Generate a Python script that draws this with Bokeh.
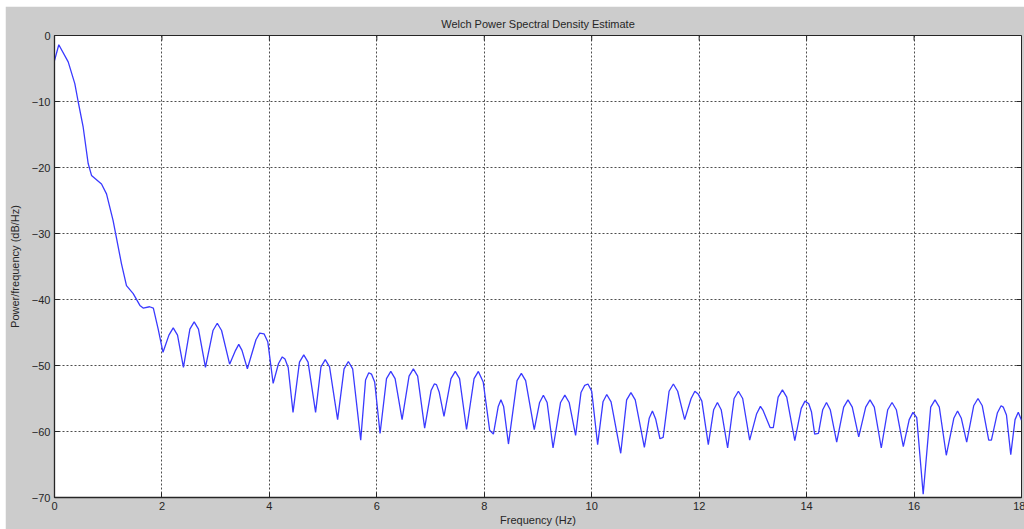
from bokeh.plotting import figure
from bokeh.models import FixedTicker, Range1d
from bokeh.embed import file_html
from bokeh.resources import INLINE

# ---- data ----
# key points of the PSD curve (peaks, troughs, bends)
freq_hz = [
    0.00, 0.08, 0.255, 0.378, 0.44, 0.534, 0.627, 0.689, 0.875, 0.968,
    1.09, 1.247, 1.34, 1.465, 1.59, 1.65, 1.77, 1.84, 1.93, 2.02,
    2.21, 2.40, 2.60, 2.81, 3.03, 3.26, 3.43, 3.59, 3.82, 3.90,
    4.07, 4.24, 4.29, 4.44, 4.64, 4.86, 5.04, 5.27, 5.47, 5.70,
    5.85, 5.90, 6.06, 6.26, 6.47, 6.68, 6.89, 7.07, 7.11, 7.25,
    7.46, 7.67, 7.89, 7.98, 8.10, 8.17, 8.31, 8.45, 8.69, 8.93,
    9.10, 9.28, 9.50, 9.70, 9.87, 9.93, 10.11, 10.28, 10.54, 10.73,
    10.98, 11.13, 11.19, 11.27, 11.33, 11.52, 11.73, 11.92, 11.98, 12.17,
    12.34, 12.53, 12.73, 12.94, 13.14, 13.19, 13.32, 13.38, 13.55, 13.78,
    13.97, 14.04, 14.15, 14.22, 14.37, 14.56, 14.77, 14.97, 15.18, 15.39,
    15.59, 15.80, 15.98, 16.05, 16.17, 16.39, 16.60, 16.81, 16.98, 17.19,
    17.39, 17.44, 17.62, 17.66, 17.80, 17.94, 18.00,
]
psd_db = [
    -3.8, -1.4, -4.0, -7.3, -10.0, -13.9, -19.4, -21.2, -22.5, -24.0,
    -28.0, -34.6, -37.9, -39.1, -40.9, -41.3, -41.1, -41.3, -44.5, -48.0,
    -44.3, -50.3, -43.4, -50.3, -43.6, -49.8, -46.8, -50.5, -45.1, -45.2,
    -52.7, -48.7, -49.0, -57.1, -48.4, -57.1, -49.1, -58.2, -49.4, -61.3,
    -51.1, -51.3, -60.3, -50.9, -58.2, -50.5, -59.5, -52.8, -52.9, -57.7,
    -50.9, -59.7, -50.9, -52.5, -59.8, -60.4, -55.2, -61.9, -51.2, -59.7,
    -54.5, -62.5, -54.5, -60.6, -53.0, -52.8, -62.0, -54.4, -63.3, -54.1,
    -62.4, -56.9, -58.1, -61.1, -60.9, -52.8, -58.2, -53.9, -54.3, -62.0,
    -55.6, -62.5, -53.9, -61.3, -56.2, -56.8, -59.4, -59.4, -53.7, -61.4,
    -55.4, -55.8, -60.4, -60.3, -55.6, -61.6, -55.2, -60.8, -55.2, -62.5,
    -55.6, -62.3, -57.1, -57.9, -69.5, -55.2, -63.6, -56.9, -61.6, -55.0,
    -61.3, -61.3, -56.1, -56.3, -63.5, -57.1, -58.3,
]
# points on the rounded shoulders of the lobes
shoulder_freq_hz = [
    2.13, 2.29, 2.52, 2.68, 2.95, 3.11, 3.37, 3.49, 3.75, 3.97,
    4.17, 4.35, 4.56, 4.72, 4.96, 5.12, 5.39, 5.55, 5.79, 5.96,
    6.18, 6.34, 6.60, 6.76, 7.01, 7.16, 7.38, 7.54, 7.81, 8.26,
    8.36, 8.61, 8.77, 9.03, 9.17, 9.42, 9.58, 9.80, 10.00, 10.21,
    10.36, 10.65, 10.81, 11.07, 11.44, 11.60, 11.85, 12.05, 12.27, 12.41,
    12.65, 12.81, 13.07, 13.47, 13.63, 13.90, 14.09, 14.30, 14.44, 14.69,
    14.85, 15.10, 15.26, 15.51, 15.67, 15.91, 16.31, 16.47, 16.74, 16.88,
    17.11, 17.27, 17.55, 17.72, 17.88,
]
shoulder_psd_db = [
    -45.4, -45.4, -44.5, -44.5, -44.7, -44.7, -47.7, -47.7, -46.1, -46.4,
    -49.7, -50.3, -49.5, -49.5, -50.2, -50.2, -50.5, -50.5, -52.2, -52.5,
    -52.0, -52.0, -51.6, -51.6, -53.8, -54.0, -52.0, -52.0, -52.0, -56.2,
    -56.2, -52.3, -52.3, -55.6, -55.6, -55.6, -55.6, -54.1, -53.9, -55.5,
    -55.5, -55.2, -55.2, -58.0, -53.9, -53.9, -55.0, -55.4, -56.7, -56.7,
    -55.0, -55.0, -57.3, -54.8, -54.8, -56.5, -57.0, -56.7, -56.7, -56.3,
    -56.3, -56.3, -56.3, -56.7, -56.7, -58.2, -56.3, -56.3, -58.0, -58.0,
    -56.1, -56.1, -57.2, -57.5, -58.2,
]
x_ticks = [0, 2, 4, 6, 8, 10, 12, 14, 16, 18]
y_ticks = [-70, -60, -50, -40, -30, -20, -10, 0]
title_text = "Welch Power Spectral Density Estimate"
x_label = "Frequency (Hz)"
y_label = "Power/frequency (dB/Hz)"

pts = sorted(zip(freq_hz + shoulder_freq_hz, psd_db + shoulder_psd_db))
curve_f = [a for a, _ in pts]
curve_db = [b for _, b in pts]

FONT = "Liberation Sans"
TXT = "#262626"
AX = "#262626"

p = figure(
    frame_width=967, frame_height=462,
    x_range=Range1d(x_ticks[0], x_ticks[-1]), y_range=Range1d(y_ticks[0], y_ticks[-1]),
    output_backend="svg", toolbar_location=None,
    min_border_left=48, min_border_top=29, min_border_right=4, min_border_bottom=32,
    background_fill_color="white", border_fill_color="#cccccc",
    outline_line_color=AX, outline_line_width=1,
    margin=(6, 0, 0, 5),
)

p.title.text = title_text
p.title.align = "center"
p.title.text_font = FONT
p.title.text_font_size = "11px"
p.title.text_font_style = "normal"
p.title.text_color = TXT
p.title.standoff = 12

p.xgrid.ticker = FixedTicker(ticks=x_ticks)
p.ygrid.ticker = FixedTicker(ticks=y_ticks)
for g in (p.xgrid[0], p.ygrid[0]):
    g.grid_line_color = "#3a3a3a"
    g.grid_line_dash = "2 2"
    g.grid_line_width = 1
    g.grid_line_alpha = 0.9

p.line(curve_f, curve_db, line_color="#3a3aff", line_width=1.3)

for ax in (p.xaxis[0], p.yaxis[0]):
    ax.major_label_text_font = FONT
    ax.major_label_text_font_size = "11px"
    ax.major_label_text_color = TXT
    ax.axis_label_text_font = FONT
    ax.axis_label_text_font_size = "11px"
    ax.axis_label_text_font_style = "normal"
    ax.axis_label_text_color = TXT
    ax.major_tick_in = 5
    ax.major_tick_out = 0
    ax.minor_tick_in = 0
    ax.minor_tick_out = 0
    ax.axis_line_color = AX
    ax.axis_line_width = 1.3
    ax.major_tick_line_color = AX
    ax.major_label_standoff = 4

p.xaxis[0].ticker = FixedTicker(ticks=x_ticks)
p.yaxis[0].ticker = FixedTicker(ticks=y_ticks)
p.xaxis[0].axis_label = x_label
p.yaxis[0].axis_label = y_label
p.xaxis[0].axis_label_standoff = 1
p.yaxis[0].axis_label_standoff = 8

# inward tick marks on the top and right edges of the box
p.ray(x=x_ticks, y=[y_ticks[-1]] * len(x_ticks), length=5, length_units="screen",
      angle=-90, angle_units="deg", line_color=AX, line_width=1)
p.ray(x=[x_ticks[-1]] * len(y_ticks), y=y_ticks, length=5, length_units="screen",
      angle=180, angle_units="deg", line_color=AX, line_width=1)

open("out.html", "w").write(file_html(p, INLINE))
